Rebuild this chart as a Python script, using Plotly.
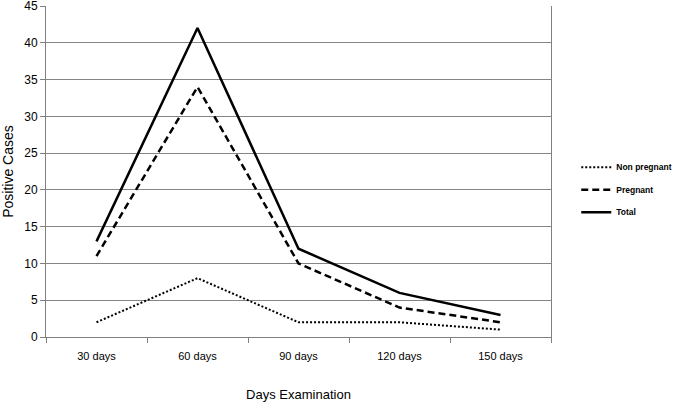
import plotly.graph_objects as go

categories = ["30 days", "60 days", "90 days", "120 days", "150 days"]
non_pregnant = [2, 8, 2, 2, 1]
pregnant = [11, 34, 10, 4, 2]
total = [13, 42, 12, 6, 3]
y_ticks = [0, 5, 10, 15, 20, 25, 30, 35, 40, 45]

font = "Liberation Sans, Arial, sans-serif"

fig = go.Figure()
fig.add_trace(go.Scatter(x=categories, y=non_pregnant, mode="lines", name="Non pregnant",
                         legendgroup="a", line=dict(color="black", width=2, dash="2px,2px")))
fig.add_trace(go.Scatter(x=categories, y=pregnant, mode="lines", name="Pregnant",
                         legendgroup="b", line=dict(color="black", width=2.5, dash="7px,4px")))
fig.add_trace(go.Scatter(x=categories, y=total, mode="lines", name="Total",
                         legendgroup="c", line=dict(color="black", width=2.5)))

fig.update_layout(
    width=675, height=402,
    margin=dict(l=46, r=124, t=6, b=65, autoexpand=False),
    plot_bgcolor="white", paper_bgcolor="white",
    showlegend=True,
    legend=dict(x=1.05, y=0.557, xanchor="left", yanchor="top",
                font=dict(family=font, size=8.5, color="black", weight="bold"),
                tracegroupgap=3.5, itemwidth=30, bgcolor="rgba(0,0,0,0)"),
    xaxis=dict(
        type="category", tickson="boundaries", ticks="outside", ticklen=5,
        tickcolor="#808080", showline=True, linecolor="#808080", linewidth=1,
        showgrid=False, range=[-0.5, 4.5], automargin=False, ticklabelstandoff=9,
        tickfont=dict(family=font, size=11, color="black"),
        title=dict(text="Days Examination", font=dict(family=font, size=13, color="black"), standoff=30),
    ),
    yaxis=dict(
        range=[0, 45], tickvals=y_ticks, ticks="outside", ticklen=5,
        tickcolor="#808080", showline=True, linecolor="#808080", linewidth=1, mirror=True,
        showgrid=True, gridcolor="#858585", gridwidth=1, zeroline=False, automargin=False,
        ticklabeloverflow="allow",
        tickfont=dict(family=font, size=12, color="black"),
        title=dict(text="Positive Cases", font=dict(family=font, size=14, color="black"), standoff=13),
    ),
)

fig.write_html("out.html", config={"displayModeBar": False},
               post_script="document.body.style.margin='0';")
